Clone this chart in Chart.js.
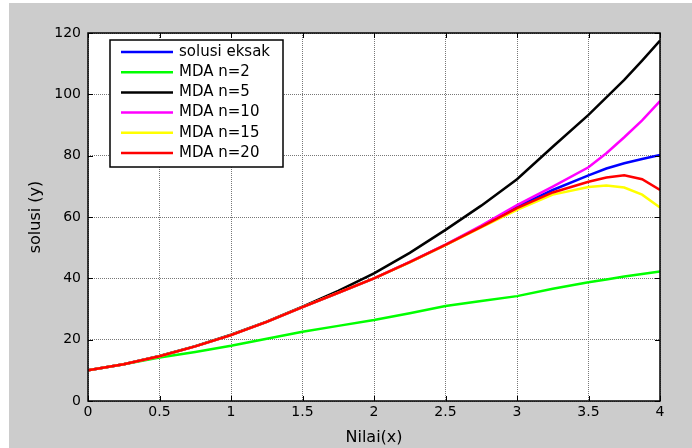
<!DOCTYPE html>
<html>
<head>
<meta charset="utf-8">
<script src="https://cdn.jsdelivr.net/npm/chart.js@4/dist/chart.umd.min.js"></script>
<style>
    html, body { margin: 0; padding: 0; background: #ffffff; }
    #wrap { width: 692px; height: 448px; }
</style>
</head>
<body>
<div id="wrap"><canvas id="solusiChart"></canvas></div>
<script>
// Nilai x yang dibaca dari gambar.
var xValues = [0, 0.25, 0.5, 0.75, 1, 1.25, 1.5, 1.75, 2, 2.25, 2.5, 2.75, 3, 3.25, 3.5, 3.625, 3.75, 3.875, 4];

// Nilai y untuk setiap seri.
var eksak = [10, 12, 14.6, 17.8, 21.5, 25.8, 30.6, 35.3, 40.0, 45.3, 50.9, 56.9, 63.3, 68.8, 73.6, 75.8, 77.5, 78.9, 80.2];
var mdaN2 = [10, 12, 14.2, 16.0, 18.0, 20.3, 22.6, 24.5, 26.4, 28.6, 31.0, 32.6, 34.2, 36.6, 38.7, 39.6, 40.6, 41.4, 42.2];
var mdaN5 = [10, 12, 14.7, 17.9, 21.6, 25.9, 30.8, 35.9, 41.6, 48.3, 55.8, 63.7, 72.3, 82.9, 93.3, 99.0, 104.7, 111.0, 117.5];
var mdaN10 = [10, 12, 14.6, 17.8, 21.5, 25.8, 30.6, 35.3, 40.0, 45.4, 51.0, 57.2, 63.9, 69.9, 76.2, 80.8, 86.0, 91.5, 97.8];
var mdaN15 = [10, 12, 14.6, 17.8, 21.5, 25.8, 30.6, 35.3, 40.0, 45.2, 50.8, 56.6, 62.3, 67.3, 69.8, 70.3, 69.6, 67.3, 63.1];
var mdaN20 = [10, 12, 14.6, 17.8, 21.5, 25.8, 30.6, 35.3, 40.0, 45.3, 50.9, 56.8, 62.9, 68.0, 71.5, 72.9, 73.6, 72.3, 68.8];

// Label dan warna seri.
var seriesLabels = ['solusi eksak', 'MDA n=2', 'MDA n=5', 'MDA n=10', 'MDA n=15', 'MDA n=20'];
var seriesColors = ['#0000ff', '#00ff00', '#000000', '#ff00ff', '#ffff00', '#ff0000'];
var seriesValues = [eksak, mdaN2, mdaN5, mdaN10, mdaN15, mdaN20];

function toPoints(values) {
    var points = [];
    for (var i = 0; i < xValues.length; i++) {
        points.push({ x: xValues[i], y: values[i] });
    }
    return points;
}

var datasets = [];
for (var s = 0; s < seriesLabels.length; s++) {
    datasets.push({
        label: seriesLabels[s],
        data: toPoints(seriesValues[s]),
        borderColor: seriesColors[s],
        borderWidth: 2.5,
        pointRadius: 0,
        fill: false,
        tension: 0,
        // seri terakhir digambar paling atas, seperti di MATLAB
        order: seriesLabels.length - s
    });
}

var tickFont = { family: 'DejaVu Sans', size: 14 };
var titleFont = { family: 'DejaVu Sans', size: 16 };

// Latar belakang abu-abu dan area plot putih.
var backgroundPlugin = {
    id: 'background',
    beforeDraw: function (chart) {
        var ctx = chart.ctx;
        var area = chart.chartArea;
        ctx.save();
        ctx.fillStyle = '#ffffff';
        ctx.fillRect(0, 0, chart.width, chart.height);
        ctx.fillStyle = '#cccccc';
        ctx.fillRect(9, 3, chart.width - 9, chart.height - 3);
        ctx.fillStyle = '#ffffff';
        ctx.fillRect(area.left, area.top, area.right - area.left, area.bottom - area.top);
        ctx.restore();
    }
};

// Kotak sumbu dan tanda tick ke dalam di keempat sisi.
var boxPlugin = {
    id: 'box',
    afterDatasetsDraw: function (chart) {
        var ctx = chart.ctx;
        var area = chart.chartArea;
        var xScale = chart.scales.x;
        var yScale = chart.scales.y;
        var len = 5;
        ctx.save();
        ctx.strokeStyle = '#000000';
        ctx.lineWidth = 1;
        ctx.beginPath();
        xScale.ticks.forEach(function (t) {
            var px = Math.round(xScale.getPixelForValue(t.value)) + 0.5;
            ctx.moveTo(px, area.bottom);
            ctx.lineTo(px, area.bottom - len);
            ctx.moveTo(px, area.top);
            ctx.lineTo(px, area.top + len);
        });
        yScale.ticks.forEach(function (t) {
            var py = Math.round(yScale.getPixelForValue(t.value)) + 0.5;
            ctx.moveTo(area.left, py);
            ctx.lineTo(area.left + len, py);
            ctx.moveTo(area.right, py);
            ctx.lineTo(area.right - len, py);
        });
        ctx.stroke();
        ctx.lineWidth = 1.5;
        ctx.strokeRect(area.left, area.top, area.right - area.left, area.bottom - area.top);
        ctx.restore();
    }
};

// Legenda di dalam area plot (kiri atas).
var legendPlugin = {
    id: 'insideLegend',
    afterDraw: function (chart) {
        var ctx = chart.ctx;
        var boxLeft = 110, boxTop = 40, boxWidth = 173, boxHeight = 127;
        var rowStart = 52, rowStep = 20.2;
        ctx.save();
        ctx.fillStyle = '#ffffff';
        ctx.fillRect(boxLeft, boxTop, boxWidth, boxHeight);
        ctx.strokeStyle = '#000000';
        ctx.lineWidth = 1.5;
        ctx.strokeRect(boxLeft, boxTop, boxWidth, boxHeight);
        ctx.font = '15px "DejaVu Sans"';
        ctx.textBaseline = 'middle';
        chart.data.datasets.forEach(function (ds, i) {
            var y = rowStart + i * rowStep;
            ctx.strokeStyle = ds.borderColor;
            ctx.lineWidth = 2.5;
            ctx.beginPath();
            ctx.moveTo(121, y);
            ctx.lineTo(173, y);
            ctx.stroke();
            ctx.fillStyle = '#000000';
            ctx.fillText(ds.label, 179, y);
        });
        ctx.restore();
    }
};

// Format label tick x seperti MATLAB: 0, 0.5, 1, ...
function formatX(value) {
    return String(Math.round(value * 10) / 10);
}

var solusiChart = new Chart(document.getElementById('solusiChart').getContext('2d'), {
    type: 'line',
    data: { datasets: datasets },
    plugins: [backgroundPlugin, boxPlugin, legendPlugin],
    options: {
        responsive: true,
        maintainAspectRatio: false,
        animation: false,
        layout: { padding: { top: 33, right: 32, left: 0, bottom: 0 } },
        plugins: {
            legend: { display: false },
            tooltip: { enabled: false }
        },
        scales: {
            x: {
                type: 'linear',
                min: 0,
                max: 4,
                ticks: { stepSize: 0.5, color: '#000000', font: tickFont, padding: 3, maxRotation: 0, callback: formatX },
                grid: { color: '#777777', lineWidth: 1, drawTicks: false },
                border: { display: false, dash: [1, 1] },
                title: { display: true, text: 'Nilai(x)', color: '#000000', font: titleFont, padding: { top: 0, bottom: 1 } },
                afterFit: function (scale) { scale.height = 47; }
            },
            y: {
                type: 'linear',
                min: 0,
                max: 120,
                ticks: { stepSize: 20, color: '#000000', font: tickFont, padding: 7 },
                grid: { color: '#777777', lineWidth: 1, drawTicks: false },
                border: { display: false, dash: [1, 1] },
                title: { display: true, text: 'solusi (y)', color: '#000000', font: titleFont, padding: { top: 26, bottom: 0 } },
                afterFit: function (scale) { scale.width = 88; }
            }
        }
    }
});
</script>
</body>
</html>
